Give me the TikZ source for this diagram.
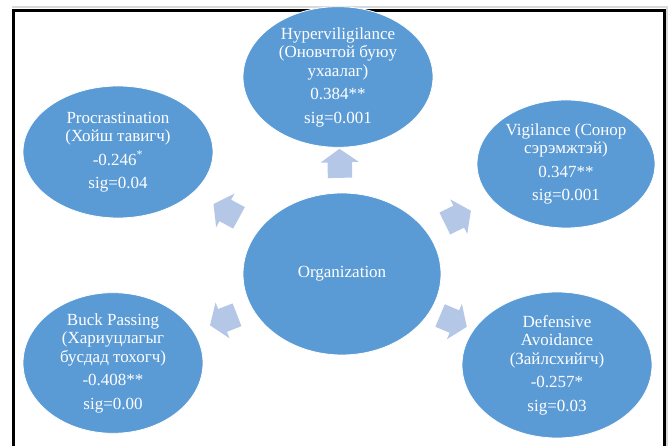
\documentclass[tikz,border=0pt]{standalone}
\usepackage{fontspec}
\setmainfont{Liberation Serif}
\usetikzlibrary{shapes.geometric,shapes.arrows}
\definecolor{ellblue}{HTML}{5B9BD5}
\definecolor{arrblue}{HTML}{B4C7E7}
\begin{document}
\begin{tikzpicture}[x=1pt,y=1pt,
  ell/.style={ellipse, fill=ellblue, draw=white, line width=0.8pt, inner sep=0pt,
    text=white, align=center, font=\fontsize{17}{18.5}\selectfont},
  barrow/.style={single arrow, fill=arrblue, draw=none, inner sep=0pt,
    minimum width=0pt, minimum height=29pt, single arrow head extend=7pt,
    single arrow tip angle=110, sloped, allow upside down, pos=0.5}]
\useasboundingbox (0,0) rectangle (672,446);
\fill[white] (0,0) rectangle (672,446);
\draw[gray!30, line width=1.5pt] (12,439) -- (667,439) -- (667,0);
\draw[black, line width=3pt] (13.5,-5) -- (13.5,435.5) -- (664.5,435.5) -- (664.5,-5);

\node[ell, minimum width=198pt, minimum height=162pt] (org) at (342,172) {Organization};
\node[ell, minimum width=190pt, minimum height=128pt] (hyp) at (338,369)
  {Hyperviligilance\\(Оновчтой буюу\\ухаалаг)\\[5pt]0.384**\\[5pt]sig=0.001};
\node[ell, minimum width=190pt, minimum height=132pt] (proc) at (118,294)
  {Procrastination\\(Хойш тавигч)\\[5pt]-0.246\textsuperscript{*}\\[5pt]sig=0.04};
\node[ell, minimum width=178pt, minimum height=128pt] (vig) at (566,282)
  {Vigilance (Сонор\\сэрэмжтэй)\\[5pt]0.347**\\[5pt]sig=0.001};
\node[ell, minimum width=180pt, minimum height=136pt] (buck) at (113,83)
  {Buck Passing\\(Хариуцлагыг\\бусдад тохогч)\\[5pt]-0.408**\\[5pt]sig=0.00};
\node[ell, minimum width=190pt, minimum height=146pt] (def) at (557,81)
  {Defensive\\Avoidance\\(Зайлсхийгч)\\[5pt]-0.257*\\[5pt]sig=0.03};

\path (org.center) -- node[barrow, pos=0.54] (a1) {\rule{0pt}{24pt}} (hyp.center);
\path (org.center) -- node[barrow] (a2) {\rule{0pt}{24pt}} (proc.center);
\path (org.center) -- node[barrow] (a3) {\rule{0pt}{24pt}} (vig.center);
\path (org.center) -- node[barrow] (a4) {\rule{0pt}{24pt}} (buck.center);
\path (org.center) -- node[barrow] (a5) {\rule{0pt}{24pt}} (def.center);
\end{tikzpicture}
\end{document}
